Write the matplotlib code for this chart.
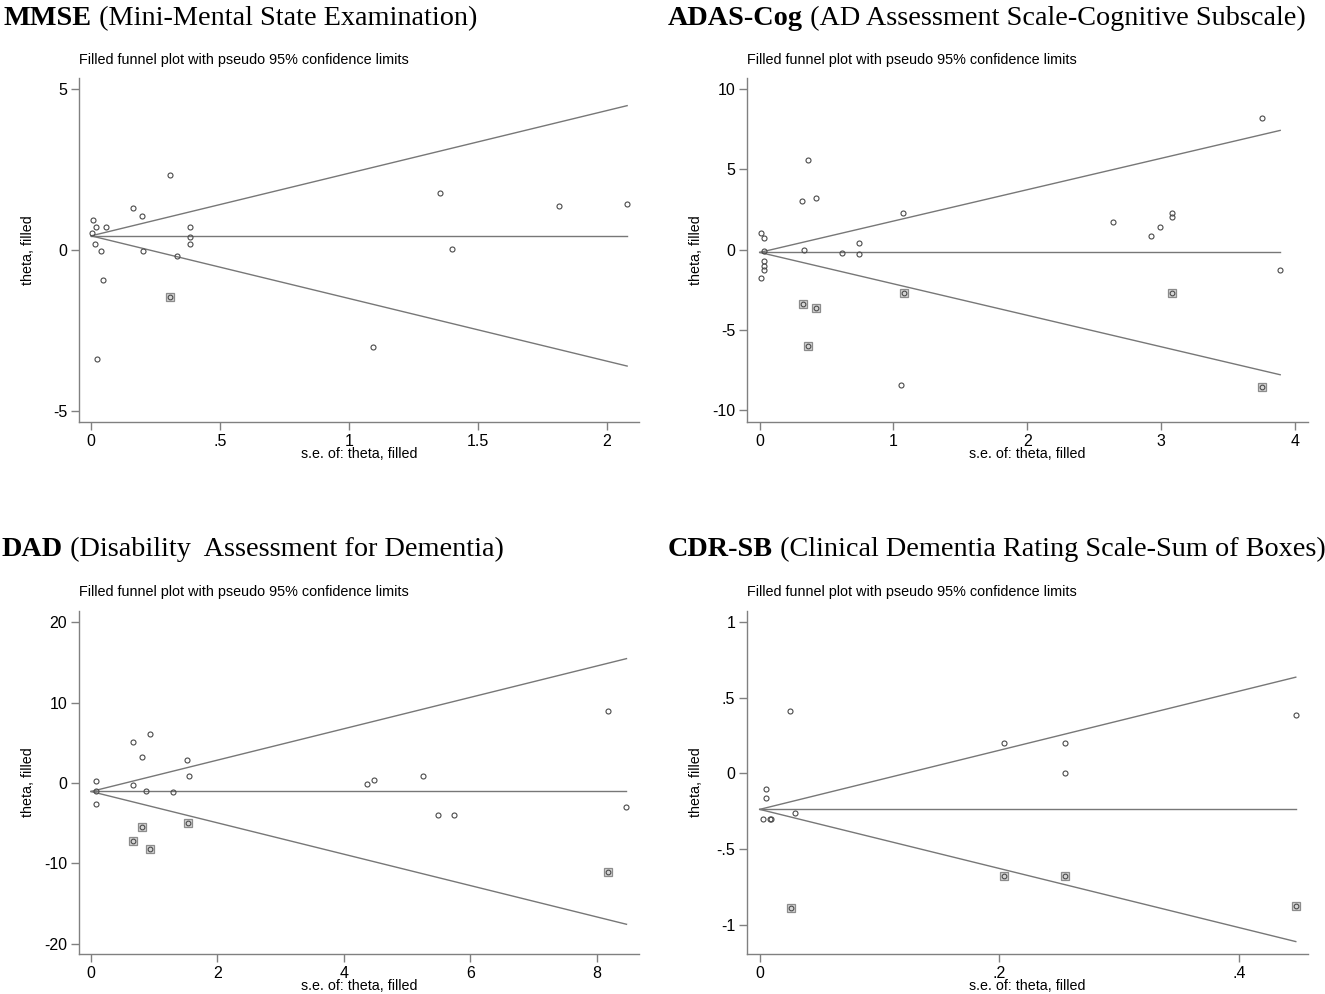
import matplotlib
matplotlib.use("Agg")
import matplotlib.pyplot as plt

plt.rcParams['font.family'] = ['Liberation Sans', 'DejaVu Sans']

# MMSE
mmse_se = [0.008, 0.019, 0.059, 0.005, 0.016, 0.039, 0.045, 0.021, 0.164, 0.199,
           0.200, 0.304, 0.332, 0.382, 0.382, 0.382, 1.093, 1.351, 1.400, 1.815, 2.078]
mmse_theta = [0.92, 0.71, 0.73, 0.54, 0.19, -0.04, -0.93, -3.39, 1.32, 1.06,
              -0.02, 2.34, -0.19, 0.71, 0.40, 0.20, -3.02, 1.78, 0.04, 1.36, 1.44]
mmse_fill_se = [0.304]
mmse_fill_theta = [-1.45]
mmse_line = [0.44, 2.078, 4.49, -3.61]   # pooled, max se, upper, lower

# ADAS-Cog
adas_se = [0.010, 0.030, 0.030, 0.031, 0.030, 0.032, 0.012, 0.361, 0.319, 0.421,
           0.331, 0.613, 0.740, 0.740, 1.072, 1.060, 2.643, 2.924, 2.997, 3.081,
           3.084, 3.755, 3.892]
adas_theta = [1.04, 0.70, -0.08, -0.68, -1.00, -1.29, -1.74, 5.60, 3.01, 3.19,
              0.00, -0.23, 0.39, -0.29, 2.30, -8.40, 1.74, 0.85, 1.39, 2.28,
              2.05, 8.20, -1.29]
adas_fill_se = [0.324, 0.421, 0.364, 1.077, 3.081, 3.755]
adas_fill_theta = [-3.38, -3.61, -5.97, -2.70, -2.68, -8.57]
adas_line = [-0.17, 3.892, 7.42, -7.78]

# DAD
dad_se = [0.084, 0.084, 0.084, 0.668, 0.663, 0.926, 0.805, 0.874, 1.305, 1.526,
          1.553, 4.370, 4.470, 5.245, 5.487, 5.744, 8.183, 8.472]
dad_theta = [0.25, -0.95, -2.57, 5.06, -0.25, 6.06, 3.23, -0.95, -1.16, 2.82,
             0.92, -0.12, 0.34, 0.87, -4.02, -4.02, 8.96, -2.99]
dad_fill_se = [0.668, 0.805, 0.932, 1.532, 8.183]
dad_fill_theta = [-7.25, -5.43, -8.25, -5.05, -11.11]
dad_line = [-1.07, 8.472, 15.47, -17.6]

# CDR-SB
cdr_se = [0.0031, 0.0085, 0.0095, 0.0053, 0.0050, 0.0256, 0.0298, 0.2038, 0.255,
          0.255, 0.4476]
cdr_theta = [-0.301, -0.30, -0.30, -0.101, -0.163, 0.41, -0.26, 0.20, 0.20,
             0.00, 0.386]
cdr_fill_se = [0.0259, 0.204, 0.255, 0.4476]
cdr_fill_theta = [-0.89, -0.68, -0.68, -0.872]
cdr_line = [-0.237, 0.4476, 0.636, -1.11]

W, H = 1325, 994
gray = '#777777'
mark = '#4a4a4a'


def panel(box, se, theta, fse, ftheta, line, xlim, ylim, xt, xtl, yt, ytl,
          bold, rest, title_y, sub_y):
    l, r, t, b, tx = box
    ax = fig.add_axes([l / W, 1 - b / H, (r - l) / W, (b - t) / H])
    pooled, smax, up, low = line
    ax.plot([0, smax], [pooled, pooled], color=gray, lw=1.0, zorder=1)
    ax.plot([0, smax], [pooled, up], color=gray, lw=1.0, zorder=1)
    ax.plot([0, smax], [pooled, low], color=gray, lw=1.0, zorder=1)
    ax.plot(fse, ftheta, 's', ms=5.4, mfc='#d6d6d6', mec='#8c8c8c', mew=0.9,
            ls='none', zorder=2)
    ax.plot(fse, ftheta, 'o', ms=3.4, mfc='none', mec=mark, mew=0.8,
            ls='none', zorder=3)
    ax.plot(se, theta, 'o', ms=3.6, mfc='none', mec=mark, mew=0.8,
            ls='none', zorder=3)
    ax.set_xlim(*xlim)
    ax.set_ylim(*ylim)
    ax.set_xticks(xt)
    ax.set_xticklabels(xtl)
    ax.set_yticks(yt)
    ax.set_yticklabels(ytl)
    for s in ['top', 'right']:
        ax.spines[s].set_visible(False)
    for s in ['left', 'bottom']:
        ax.spines[s].set_color('#808080')
        ax.spines[s].set_linewidth(1.0)
    ax.tick_params(direction='out', length=5.5, width=1.0, color='#808080',
                   labelsize=11.5, pad=3)
    ax.set_xlabel('s.e. of: theta, filled', fontsize=10.3)
    ax.set_ylabel('theta, filled', fontsize=10.3)
    ax.xaxis.set_label_coords(0.5, -25 / (b - t))
    ax.yaxis.set_label_coords(-44 / (r - l), 0.5)
    fig.text(l / W, 1 - sub_y / H, 'Filled funnel plot with pseudo 95% confidence limits',
             fontsize=10.4, va='center', ha='left')
    t1 = fig.text(tx / W, 1 - title_y / H, bold, fontsize=20.3,
                  family='Liberation Serif', weight='bold', va='bottom', ha='left')
    ax.annotate(rest, xy=(1, 0), xycoords=t1, fontsize=20.3,
                family='Liberation Serif', va='bottom', ha='left',
                annotation_clip=False)
    return ax


fig = plt.figure(figsize=(13.25, 9.94), dpi=100)

panel((79, 639, 78, 422, 4), mmse_se, mmse_theta, mmse_fill_se, mmse_fill_theta,
      mmse_line, (-0.047, 2.124), (-5.35, 5.35),
      [0, 0.5, 1, 1.5, 2], ['0', '.5', '1', '1.5', '2'],
      [-5, 0, 5], ['-5', '0', '5'],
      'MMSE', ' (Mini-Mental State Examination)', 31, 60)

panel((747, 1308, 78, 422, 668), adas_se, adas_theta, adas_fill_se, adas_fill_theta,
      adas_line, (-0.095, 4.10), (-10.72, 10.68),
      [0, 1, 2, 3, 4], ['0', '1', '2', '3', '4'],
      [-10, -5, 0, 5, 10], ['-10', '-5', '0', '5', '10'],
      'ADAS-Cog', ' (AD Assessment Scale-Cognitive Subscale)', 31, 60)

panel((79, 639, 611, 954, 2), dad_se, dad_theta, dad_fill_se, dad_fill_theta,
      dad_line, (-0.19, 8.67), (-21.3, 21.4),
      [0, 2, 4, 6, 8], ['0', '2', '4', '6', '8'],
      [-20, -10, 0, 10, 20], ['-20', '-10', '0', '10', '20'],
      'DAD', ' (Disability  Assessment for Dementia)', 562, 592)

panel((747, 1308, 611, 954, 668), cdr_se, cdr_theta, cdr_fill_se, cdr_fill_theta,
      cdr_line, (-0.0106, 0.4578), (-1.192, 1.073),
      [0, 0.2, 0.4], ['0', '.2', '.4'],
      [-1, -0.5, 0, 0.5, 1], ['-1', '-.5', '0', '.5', '1'],
      'CDR-SB', ' (Clinical Dementia Rating Scale-Sum of Boxes)', 562, 592)

fig.savefig('out.png', dpi=100)
